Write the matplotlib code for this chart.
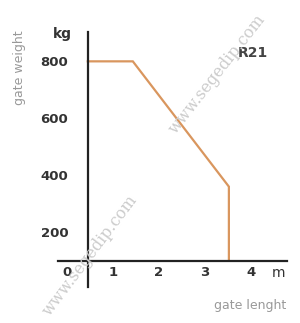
import matplotlib
matplotlib.use("Agg")
import matplotlib.pyplot as plt

# gate length (m) vs max gate weight (kg)
gate_length = [0.45, 1.43, 3.52, 3.52]
gate_weight = [800, 800, 360, 100]
x_ticks = [0, 1, 2, 3, 4]
y_ticks = [200, 400, 600, 800]

fig = plt.figure(figsize=(3.0, 3.23), dpi=100)
ax = fig.add_axes([0.193, 0.111, 0.763, 0.789])

ax.plot(gate_length, gate_weight, color="#d9965e", lw=1.6, solid_joinstyle="miter")

ax.set_xlim(-0.2, 4.78)
ax.set_ylim(7, 902)
ax.spines["top"].set_visible(False)
ax.spines["right"].set_visible(False)
ax.spines["left"].set_position(("data", 0.45))
ax.spines["bottom"].set_position(("data", 100))
for s in ("left", "bottom"):
    ax.spines[s].set_linewidth(1.6)
    ax.spines[s].set_color("#222222")

ax.set_xticks(x_ticks)
ax.set_xticklabels([str(t) for t in x_ticks], fontweight="bold", fontsize=9.5, color="#333333")
ax.set_yticks(y_ticks)
ax.set_yticklabels([str(t) for t in y_ticks], fontweight="bold", fontsize=9.5, color="#333333")
ax.tick_params(length=0, pad=4)
ax.tick_params(axis="y", pad=14)

ax.text(4.6, 58, "m", fontsize=10, color="#333333", ha="center", va="center")
ax.text(-0.1, 895, "kg", fontsize=10, fontweight="bold", color="#333333", ha="center", va="center")
ax.text(4.04, 830, "R21", fontsize=10, fontweight="bold", color="#444444", ha="center", va="center")

fig.text(0.955, 0.055, "gate lenght", fontsize=9, color="#999999", ha="right", va="center")
fig.text(0.065, 0.79, "gate weight", fontsize=9, color="#999999", rotation=90, ha="center", va="center")

# watermarks
fig.text(0.30, 0.21, "www.segedip.com", fontsize=11.5, family="DejaVu Serif", color="#cccccc",
         rotation=53, ha="center", va="center")
fig.text(0.725, 0.77, "www.segedip.com", fontsize=11.5, family="DejaVu Serif", color="#cccccc",
         rotation=52, ha="center", va="center")

fig.savefig("out.png", dpi=100)
